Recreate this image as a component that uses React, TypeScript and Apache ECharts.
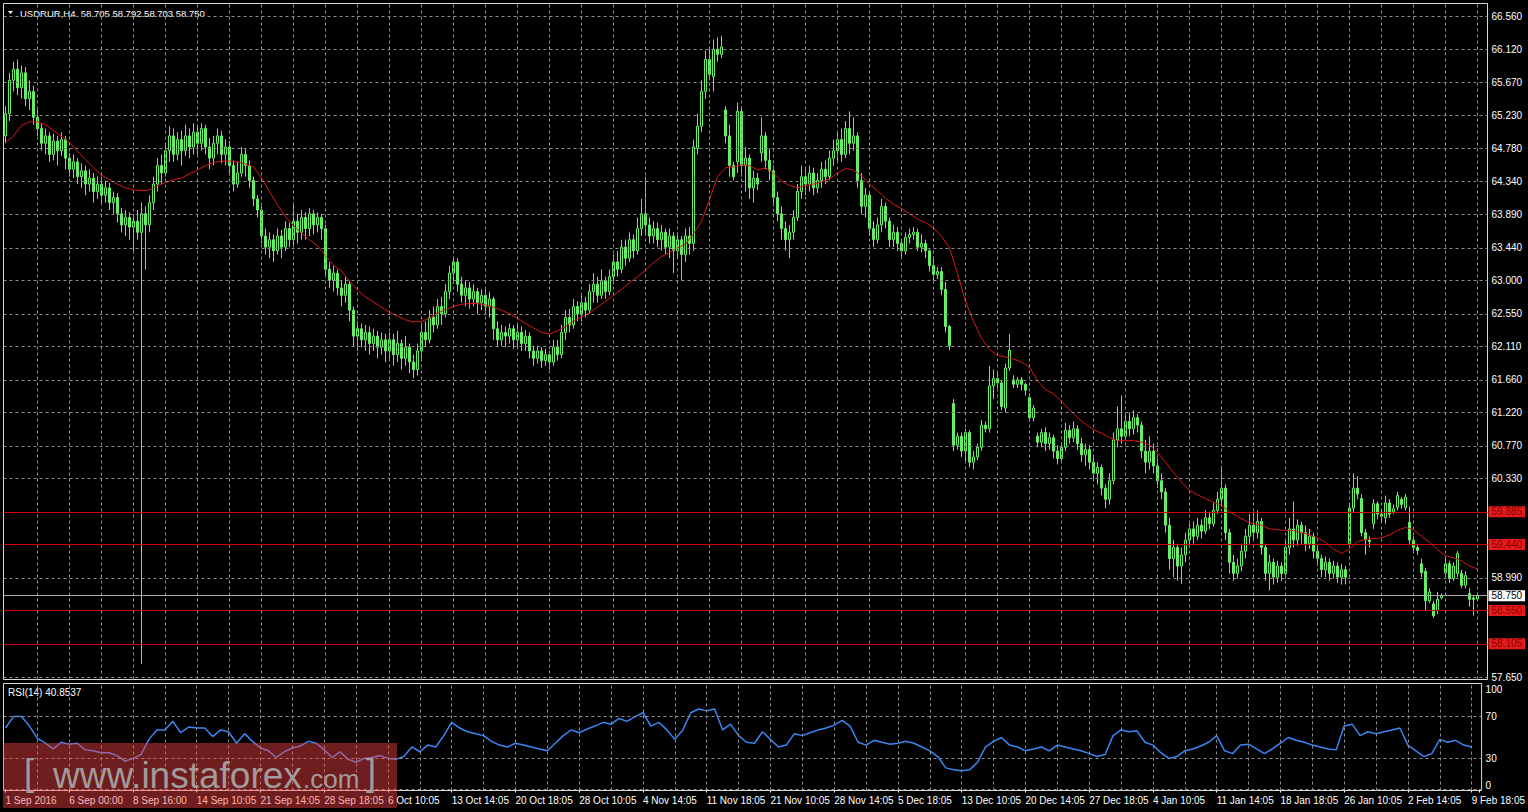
import React, { useEffect, useRef } from 'react';
import * as echarts from 'echarts';

const symbolTitle = 'USDRUR,H4  58.705 58.792 58.703 58.750';
const rsiTitle = 'RSI(14) 40.8537';

const xTickLabels = [
  '1 Sep 2016', '6 Sep 00:00', '8 Sep 16:00', '14 Sep 10:05', '21 Sep 14:05', '28 Sep 18:05',
  '6 Oct 10:05', '13 Oct 14:05', '20 Oct 18:05', '28 Oct 10:05', '4 Nov 14:05', '11 Nov 18:05',
  '21 Nov 10:05', '28 Nov 14:05', '5 Dec 18:05', '13 Dec 10:05', '20 Dec 14:05', '27 Dec 18:05',
  '4 Jan 10:05', '11 Jan 14:05', '18 Jan 18:05', '26 Jan 10:05', '2 Feb 14:05', '9 Feb 18:05',
];

const priceTicks = [
  66.56, 66.12, 65.67, 65.23, 64.78, 64.34, 63.89, 63.44, 63.0, 62.55, 62.11,
  61.66, 61.22, 60.77, 60.33, 59.885, 59.44, 58.99, 58.55, 58.105, 57.65,
];
const levelLines = [59.885, 59.44, 58.55, 58.105];
const lastPrice = 58.75;
const rsiGridLevels = [70, 30, 0];
const rsiTickLabels = [100, 70, 30, 0];

// [open, close, low, high] per H4 bar
const candles = [
  [64.95,65.25,64.85,65.35],[65.25,65.70,65.15,65.80],[65.70,65.85,65.55,65.95],[65.85,65.60,65.50,65.98],
  [65.60,65.80,65.45,65.90],[65.80,65.45,65.35,65.88],[65.45,65.55,65.30,65.70],[65.55,65.20,65.10,65.62],
  [65.20,65.05,64.95,65.30],[65.05,64.85,64.75,65.12],[64.85,64.95,64.70,65.05],[64.95,64.70,64.60,65.00],
  [64.70,64.88,64.62,64.98],[64.88,64.75,64.55,64.95],[64.75,64.90,64.68,65.00],[64.90,64.65,64.50,64.95],
  [64.65,64.50,64.40,64.72],[64.50,64.60,64.38,64.70],[64.60,64.40,64.30,64.65],[64.40,64.48,64.25,64.58],
  [64.48,64.30,64.15,64.55],[64.30,64.38,64.20,64.50],[64.38,64.20,64.05,64.45],[64.20,64.30,64.10,64.40],
  [64.30,64.15,64.02,64.40],[64.15,64.25,64.05,64.35],[64.25,64.05,63.95,64.32],[64.05,64.12,63.90,64.20],
  [64.12,63.90,63.78,64.18],[63.90,63.75,63.65,63.98],[63.75,63.85,63.60,63.95],[63.85,63.72,63.55,63.92],
  [63.72,63.80,63.40,63.90],[63.80,63.65,63.55,63.95],[63.65,63.90,57.83,64.05],[63.90,63.75,63.15,64.00],
  [63.75,64.05,63.65,64.15],[64.05,64.30,63.95,64.40],[64.30,64.55,64.20,64.65],[64.55,64.45,64.30,64.70],
  [64.45,64.75,64.40,64.85],[64.75,64.95,64.60,65.08],[64.95,64.70,64.60,65.05],[64.70,64.90,64.62,65.00],
  [64.90,64.75,64.55,65.02],[64.75,64.95,64.68,65.10],[64.95,64.80,64.65,65.05],[64.80,65.00,64.70,65.12],
  [65.00,64.85,64.70,65.10],[64.85,65.05,64.75,65.12],[65.05,64.80,64.70,65.10],[64.80,64.65,64.50,64.92],
  [64.65,64.85,64.55,64.95],[64.85,64.95,64.70,65.05],[64.95,64.70,64.58,65.02],[64.70,64.80,64.55,64.90],
  [64.80,64.55,64.45,64.88],[64.55,64.30,64.20,64.62],[64.30,64.45,64.25,64.60],[64.45,64.70,64.40,64.80],
  [64.70,64.55,64.40,64.78],[64.55,64.35,64.25,64.62],[64.35,64.10,64.00,64.40],[64.10,63.95,63.85,64.15],
  [63.95,63.60,63.50,64.00],[63.60,63.45,63.35,63.70],[63.45,63.55,63.30,63.65],[63.55,63.40,63.25,63.62],
  [63.40,63.60,63.35,63.70],[63.60,63.45,63.30,63.68],[63.45,63.70,63.40,63.80],[63.70,63.55,63.45,63.78],
  [63.55,63.80,63.45,64.05],[63.80,63.65,63.50,63.90],[63.65,63.85,63.55,63.95],[63.85,63.70,63.55,63.92],
  [63.70,63.90,63.60,63.98],[63.90,63.75,63.62,63.95],[63.75,63.85,63.65,63.92],[63.85,63.70,63.55,63.90],
  [63.70,63.15,63.05,63.75],[63.15,63.00,62.90,63.25],[63.00,63.10,62.85,63.20],[63.10,62.90,62.80,63.15],
  [62.90,62.80,62.65,63.00],[62.80,62.95,62.70,63.05],[62.95,62.60,62.45,63.00],[62.60,62.25,62.10,62.65],
  [62.25,62.35,62.05,62.45],[62.35,62.20,62.10,62.42],[62.20,62.30,62.05,62.40],[62.30,62.15,62.00,62.38],
  [62.15,62.25,62.05,62.35],[62.25,62.10,61.95,62.32],[62.10,62.20,62.00,62.30],[62.20,62.05,61.90,62.28],
  [62.05,62.20,61.95,62.30],[62.20,62.00,61.85,62.28],[62.00,62.15,61.90,62.32],[62.15,61.95,61.80,62.20],
  [61.95,62.10,61.85,62.25],[62.10,61.90,61.75,62.15],[61.90,61.80,61.68,62.00],[61.80,62.05,61.72,62.15],
  [62.05,62.30,61.95,62.40],[62.30,62.20,62.10,62.45],[62.20,62.50,62.15,62.60],[62.50,62.40,62.30,62.65],
  [62.40,62.65,62.35,62.75],[62.65,62.55,62.40,62.78],[62.55,62.85,62.50,62.95],[62.85,63.10,62.75,63.20],
  [63.10,63.25,62.95,63.32],[63.25,62.95,62.85,63.30],[62.95,62.80,62.70,63.05],[62.80,62.90,62.65,63.00],
  [62.90,62.75,62.62,62.98],[62.75,62.85,62.65,62.95],[62.85,62.70,62.55,62.90],[62.70,62.80,62.60,62.88],
  [62.80,62.65,62.55,62.88],[62.65,62.75,62.50,62.85],[62.75,62.35,62.20,62.78],[62.35,62.20,62.10,62.45],
  [62.20,62.30,62.12,62.40],[62.30,62.25,62.10,62.38],[62.25,62.35,62.15,62.42],[62.35,62.20,62.08,62.40],
  [62.20,62.30,62.10,62.40],[62.30,62.15,62.05,62.38],[62.15,62.25,62.05,62.33],[62.25,62.05,61.95,62.30],
  [62.05,61.95,61.85,62.12],[61.95,62.05,61.88,62.12],[62.05,61.92,61.82,62.10],[61.92,62.00,61.85,62.08],
  [62.00,61.90,61.80,62.05],[61.90,62.10,61.85,62.20],[62.10,62.00,61.92,62.20],[62.00,62.30,61.95,62.40],
  [62.30,62.50,62.20,62.60],[62.50,62.40,62.30,62.62],[62.40,62.65,62.35,62.75],[62.65,62.55,62.45,62.72],
  [62.55,62.70,62.45,62.80],[62.70,62.60,62.50,62.78],[62.60,62.85,62.55,62.95],[62.85,62.95,62.70,63.10],
  [62.95,62.80,62.70,63.05],[62.80,63.00,62.75,63.15],[63.00,62.85,62.75,63.05],[62.85,63.05,62.80,63.15],
  [63.05,63.25,62.95,63.35],[63.25,63.15,63.05,63.40],[63.15,63.45,63.10,63.55],[63.45,63.30,63.20,63.55],
  [63.30,63.55,63.25,63.65],[63.55,63.40,63.30,63.62],[63.40,63.70,63.35,63.85],[63.70,63.90,63.60,64.10],
  [63.90,63.75,63.60,64.40],[63.75,63.60,63.50,63.85],[63.60,63.70,63.50,63.80],[63.70,63.55,63.45,63.78],
  [63.55,63.65,63.40,63.75],[63.65,63.45,63.35,63.70],[63.45,63.60,63.30,63.70],[63.60,63.40,63.10,63.65],
  [63.40,63.55,63.30,63.65],[63.55,63.35,63.00,63.60],[63.35,63.60,63.25,63.70],[63.60,63.50,63.35,63.72],
  [63.50,64.80,63.40,64.90],[64.78,65.08,64.70,65.25],[65.08,65.55,65.00,65.70],[65.55,65.98,65.45,66.10],
  [65.98,65.78,65.70,66.15],[65.75,66.12,65.55,66.25],[66.12,66.05,65.95,66.28],[66.05,66.15,66.00,66.30],
  [65.30,64.95,64.85,65.35],[64.95,64.55,64.40,65.10],[64.55,64.40,64.35,64.60],[64.60,65.28,64.45,65.40],
  [65.28,64.55,64.40,65.35],[64.55,64.65,64.20,64.80],[64.65,64.25,64.10,64.70],[64.25,64.38,64.05,64.48],
  [64.38,64.30,64.22,64.45],[64.72,64.95,64.60,65.20],[64.95,64.62,64.50,65.00],[64.62,64.48,64.35,64.78],
  [64.48,64.12,64.00,64.55],[64.12,63.90,63.80,64.20],[63.90,63.70,63.55,64.00],[63.70,63.55,63.40,63.80],
  [63.55,63.65,63.30,63.75],[63.65,63.85,63.55,63.95],[63.85,64.20,63.80,64.30],[64.20,64.40,64.10,64.55],
  [64.40,64.30,64.15,64.50],[64.30,64.45,64.20,64.55],[64.45,64.25,64.15,64.52],[64.25,64.35,64.18,64.45],
  [64.35,64.50,64.25,64.60],[64.50,64.40,64.30,64.62],[64.40,64.65,64.35,64.75],[64.65,64.75,64.55,64.90],
  [64.75,64.90,64.60,65.00],[64.90,64.70,64.60,65.05],[64.70,65.05,64.65,65.15],[65.05,64.85,64.70,65.28],
  [64.85,64.95,64.75,65.20],[64.95,64.35,64.25,65.00],[64.35,64.00,63.90,64.45],[64.00,64.15,63.85,64.25],
  [64.15,63.70,63.60,64.20],[63.70,63.55,63.45,63.80],[63.55,63.75,63.50,63.85],[63.75,64.00,63.65,64.10],
  [64.00,63.80,63.70,64.05],[63.80,63.55,63.45,63.85],[63.55,63.65,63.45,63.75],[63.65,63.50,63.40,63.72],
  [63.50,63.40,63.32,63.55],[63.40,63.58,63.35,63.65],[63.58,63.62,63.50,63.70],[63.62,63.65,63.55,63.72],
  [63.65,63.45,63.40,63.70],[63.45,63.50,63.38,63.62],[63.50,63.40,63.30,63.55],[63.40,63.20,63.12,63.42],
  [63.20,63.08,63.00,63.32],[63.08,63.12,63.02,63.18],[63.12,62.88,62.80,63.18],[62.88,62.38,62.30,62.98],
  [62.38,62.12,62.06,62.40],[61.34,60.78,60.70,61.40],[60.78,60.90,60.72,60.95],[60.90,60.70,60.62,60.95],
  [60.70,60.95,60.55,61.00],[60.95,60.55,60.48,60.98],[60.55,60.62,60.45,60.70],[60.62,60.75,60.58,60.80],
  [60.75,61.05,60.70,61.12],[61.05,61.00,60.95,61.10],[61.00,61.58,60.95,61.85],[61.58,61.68,61.40,61.80],
  [61.68,61.62,61.55,61.78],[61.62,61.30,61.25,61.65],[61.28,61.82,61.22,61.88],[61.82,62.06,61.78,62.28],
  [61.66,61.60,61.55,61.72],[61.60,61.66,61.55,61.70],[61.66,61.60,61.52,61.70],[61.60,61.52,61.45,61.62],
  [61.42,61.15,61.10,61.48],[61.15,61.28,61.10,61.32],[60.90,60.82,60.75,60.95],[60.82,60.95,60.75,61.00],
  [60.95,60.80,60.70,61.02],[60.80,60.88,60.72,60.95],[60.88,60.70,60.60,60.92],[60.70,60.60,60.52,60.78],
  [60.60,60.75,60.55,60.82],[60.75,60.98,60.70,61.08],[60.98,60.88,60.80,61.05],[60.88,61.00,60.82,61.10],
  [61.00,60.80,60.72,61.05],[60.80,60.65,60.55,60.88],[60.65,60.72,60.50,60.80],[60.72,60.55,60.45,60.78],
  [60.55,60.40,60.30,60.62],[60.40,60.48,60.25,60.55],[60.48,60.20,60.10,60.52],[60.20,60.05,59.93,60.25],
  [60.05,60.30,59.98,60.40],[60.30,60.85,60.25,60.95],[60.85,61.00,60.75,61.30],[61.00,60.90,60.80,61.45],
  [60.90,61.10,60.85,61.20],[61.10,61.00,60.90,61.22],[61.00,61.15,60.92,61.25],[61.15,61.05,60.95,61.20],
  [61.05,60.70,60.60,61.10],[60.70,60.55,60.40,60.85],[60.55,60.70,60.45,60.90],[60.70,60.50,60.40,60.80],
  [60.50,60.30,60.20,60.60],[60.30,60.15,60.05,60.40],[60.15,59.70,59.60,60.20],[59.70,59.25,59.10,59.80],
  [59.25,59.40,59.00,59.50],[59.40,59.15,58.95,59.45],[59.15,59.30,58.91,59.40],[59.30,59.50,59.20,59.60],
  [59.50,59.65,59.40,59.72],[59.65,59.55,59.45,59.75],[59.55,59.70,59.50,59.80],[59.70,59.62,59.52,59.78],
  [59.62,59.80,59.58,59.90],[59.80,59.72,59.65,59.88],[59.72,59.90,59.68,60.00],[59.90,60.05,59.85,60.15],
  [60.05,60.20,59.95,60.50],[60.20,59.60,59.50,60.25],[59.60,59.20,59.05,59.65],[59.20,59.05,58.95,59.30],
  [59.05,59.15,58.98,59.25],[59.15,59.35,59.08,59.45],[59.35,59.55,59.25,59.65],[59.55,59.70,59.45,59.85],
  [59.70,59.60,59.50,59.88],[59.60,59.75,59.52,59.90],[59.75,59.40,59.30,59.80],[59.40,59.05,58.95,59.45],
  [59.05,59.20,58.82,59.30],[59.20,59.00,58.90,59.25],[59.00,59.15,58.92,59.22],[59.15,59.05,58.95,59.20],
  [59.05,59.40,58.98,59.50],[59.40,59.65,59.30,59.80],[59.65,59.50,59.40,60.02],[59.50,59.70,59.42,59.78],
  [59.70,59.60,59.45,59.75],[59.60,59.45,59.35,59.70],[59.45,59.55,59.38,59.65],[59.55,59.35,59.25,59.60],
  [59.35,59.25,59.15,59.45],[59.25,59.10,59.00,59.30],[59.10,59.20,59.00,59.28],[59.20,59.05,58.95,59.25],
  [59.05,59.15,58.98,59.22],[59.15,59.00,58.92,59.20],[59.00,59.10,58.90,59.18],[59.10,59.00,58.90,59.15],
  [59.45,59.93,59.40,60.00],[59.93,60.20,59.88,60.40],[60.20,60.12,60.05,60.36],[60.06,59.60,59.55,60.12],
  [59.60,59.50,59.30,59.65],[59.50,59.48,59.40,59.55],[59.72,59.99,59.65,60.05],[59.99,59.85,59.78,60.02],
  [59.85,59.82,59.75,59.90],[59.80,60.00,59.72,60.10],[60.00,59.85,59.80,60.05],[59.88,59.92,59.85,59.98],
  [59.94,60.10,59.90,60.15],[60.05,59.98,59.92,60.08],[59.94,60.08,59.90,60.12],[59.74,59.50,59.45,59.95],
  [59.50,59.40,59.35,59.55],[59.40,59.36,59.30,59.45],[59.18,59.06,59.00,59.25],[59.08,58.68,58.55,59.12],
  [58.68,58.80,58.65,58.85],[58.64,58.48,58.45,58.68],[58.55,58.70,58.50,58.80],[58.72,58.75,58.70,58.78],
  [59.06,59.18,59.00,59.28],[59.18,58.98,58.92,59.22],[58.98,59.15,58.95,59.20],[59.05,59.32,59.00,59.35],
  [59.05,58.89,58.85,59.10],[58.89,59.02,58.85,59.08],[58.78,58.70,58.60,58.85],[58.72,58.70,58.48,58.75],
  [58.705,58.75,58.703,58.792],
];

// moving average (red), read every 2nd bar
const maPoints = [
  64.86,64.95,65.09,65.14,65.14,65.10,65.02,64.94,64.86,64.74,
  64.63,64.52,64.42,64.36,64.30,64.25,64.22,64.21,64.22,64.28,
  64.32,64.36,64.38,64.44,64.49,64.55,64.59,64.61,64.61,64.60,
  64.57,64.53,64.38,64.20,64.02,63.86,63.74,63.64,63.55,63.47,
  63.33,63.21,63.13,62.99,62.87,62.78,62.71,62.64,62.57,62.52,
  62.47,62.44,62.45,62.49,62.56,62.61,62.65,62.68,62.69,62.69,
  62.67,62.64,62.60,62.55,62.49,62.42,62.36,62.30,62.28,62.32,
  62.38,62.45,62.51,62.56,62.64,62.72,62.80,62.88,62.97,63.05,
  63.14,63.24,63.32,63.38,63.44,63.49,63.63,63.80,64.09,64.40,
  64.52,64.53,64.56,64.55,64.49,64.52,64.45,64.34,64.28,64.25,
  64.28,64.30,64.33,64.37,64.45,64.51,64.49,64.41,64.30,64.21,
  64.11,64.03,63.97,63.90,63.83,63.78,63.71,63.60,63.44,63.09,
  62.72,62.45,62.22,62.07,61.99,61.97,61.94,61.90,61.83,61.65,
  61.53,61.47,61.37,61.26,61.15,61.06,60.99,60.94,60.88,60.84,
  60.84,60.84,60.82,60.78,60.68,60.55,60.41,60.28,60.17,60.11,
  60.06,60.01,59.97,59.88,59.82,59.76,59.72,59.70,59.65,59.64,
  59.63,59.63,59.60,59.57,59.53,59.47,59.38,59.32,59.38,59.48,
  59.51,59.52,59.53,59.57,59.63,59.67,59.64,59.55,59.47,59.37,
  59.29,59.26,59.22,59.15,59.11,
];

// RSI(14), read every 2nd bar
const rsiPoints = [
  59.1,70.1,70.1,61.0,49.1,44.5,39.0,45.4,43.6,44.5,
  38.1,37.2,35.4,35.4,32.6,27.2,29.9,33.6,48.2,57.3,
  57.3,65.5,54.6,60.1,59.1,59.1,50.9,57.3,55.5,44.5,
  53.7,46.3,39.9,37.2,30.8,36.3,39.9,41.8,46.3,44.5,
  38.1,30.8,36.3,29.0,26.2,29.9,30.8,32.6,29.9,29.0,
  31.7,40.9,36.3,42.7,40.9,51.8,64.6,59.1,55.5,53.7,
  51.8,46.3,42.7,40.9,44.5,42.7,40.9,39.0,37.2,44.5,
  51.8,57.3,54.6,58.2,61.0,64.6,62.8,68.3,65.5,70.1,
  73.8,61.0,64.6,57.3,48.2,57.3,73.8,77.4,75.6,77.4,
  57.3,62.8,51.8,45.4,44.5,55.5,48.2,40.9,42.7,53.7,
  51.8,54.6,57.3,59.1,61.9,66.4,61.0,45.4,42.7,47.3,
  45.4,43.6,44.5,46.3,44.5,40.9,37.2,31.7,20.8,18.9,
  18.0,18.9,26.2,40.9,46.3,50.0,42.7,40.9,37.2,39.0,
  40.9,37.2,42.7,40.9,39.0,37.2,34.5,31.7,33.6,51.8,
  57.3,55.5,56.4,45.4,42.7,35.4,29.9,31.7,37.2,39.0,
  41.8,45.4,51.8,37.2,34.5,42.7,43.6,39.0,34.5,39.0,
  44.5,50.0,47.3,45.4,42.7,40.9,39.0,38.1,61.0,62.8,
  51.8,55.5,53.7,55.5,57.3,59.1,42.7,37.2,31.7,34.5,
  48.2,45.4,47.3,42.7,40.85,
];

const SLOTS = 371;
const LABEL_EVERY = 16;
const GRID_EVERY = 8;
const SAMPLE_STEP = 2;
const FONT = "'Liberation Sans', Arial, sans-serif";

export default function App() {
  const ref = useRef<HTMLDivElement>(null);

  useEffect(() => {
    document.body.style.margin = '0';
    document.body.style.background = '#000';
    if (!ref.current) return;
    const chart = echarts.init(ref.current, null, { renderer: 'svg' });

    const categories = Array.from({ length: SLOTS }, (_, i) =>
      i % LABEL_EVERY === 0 && xTickLabels[i / LABEL_EVERY] ? xTickLabels[i / LABEL_EVERY] : ''
    );
    const vLines: any[] = [];
    for (let i = GRID_EVERY; i < candles.length; i += GRID_EVERY) vLines.push({ xAxis: i });

    const gridStyle = { color: '#8e8e8e', type: [3, 3], width: 1 };
    const hiddenLine = { color: 'rgba(0,0,0,0)', width: 1 };
    const tickLabel = (text: string, extra: any = {}) => ({
      show: true, position: 'end', distance: 4, formatter: text,
      color: '#ffffff', fontSize: 10, fontFamily: FONT, ...extra,
    });
    // MT4 keeps the 100 / 0 captions inside the indicator window
    const rsiCaption = (v: number) =>
      v === 100 ? tickLabel('\n100', { lineHeight: 9 })
        : v === 0 ? tickLabel('0\n', { lineHeight: 9 })
        : tickLabel(String(v));

    const option: any = {
      animation: false,
      backgroundColor: '#000000',
      grid: [
        { left: 3.5, top: 3.5, width: 1484, height: 676, show: true, borderColor: '#d8d8d8', borderWidth: 1 },
        { left: 3.5, top: 683.5, width: 1484, height: 107, show: true, borderColor: '#d8d8d8', borderWidth: 1 },
      ],
      xAxis: [
        {
          type: 'category', gridIndex: 0, data: categories, boundaryGap: true,
          axisLine: { show: false }, axisTick: { show: false }, axisLabel: { show: false }, splitLine: { show: false },
        },
        {
          type: 'category', gridIndex: 1, data: categories, boundaryGap: true,
          axisLine: { show: false },
          axisTick: { show: true, interval: LABEL_EVERY - 1, alignWithLabel: true, length: 3, lineStyle: { color: '#ffffff' } },
          axisLabel: {
            interval: LABEL_EVERY - 1, align: 'left', margin: 5, color: '#ffffff',
            fontSize: 10, fontFamily: FONT, showMinLabel: true, showMaxLabel: true,
          },
          splitLine: { show: false },
        },
      ],
      yAxis: [
        { type: 'value', gridIndex: 0, min: 57.6195, max: 66.7353, show: false, splitLine: { show: false } },
        { type: 'value', gridIndex: 1, min: -0.96, max: 101.92, show: false, splitLine: { show: false } },
      ],
      series: [
        {
          type: 'line', xAxisIndex: 0, yAxisIndex: 0, data: [], z: 1, silent: true,
          markLine: {
            silent: true, symbol: ['none', 'none'], lineStyle: gridStyle, label: { show: false },
            data: [
              ...vLines,
              ...priceTicks.filter((v) => !levelLines.includes(v)).map((v) => ({
                yAxis: v,
                label: tickLabel(v.toFixed(3)),
              })),
            ],
          },
        },
        {
          type: 'line', xAxisIndex: 1, yAxisIndex: 1, data: [], z: 1, silent: true,
          markLine: {
            silent: true, symbol: ['none', 'none'], lineStyle: gridStyle, label: { show: false },
            data: [
              ...vLines,
              ...rsiTickLabels.map((v) => ({
                yAxis: v,
                lineStyle: rsiGridLevels.includes(v) ? gridStyle : hiddenLine,
                label: rsiCaption(v),
              })),
            ],
          },
        },
        {
          type: 'candlestick', xAxisIndex: 0, yAxisIndex: 0, data: candles, z: 3,
          barWidth: 2,
          itemStyle: {
            color: '#000000', color0: '#66ee66',
            borderColor: '#66ee66', borderColor0: '#66ee66', borderWidth: 1,
          },
        },
        {
          type: 'line', xAxisIndex: 0, yAxisIndex: 0, z: 4, symbol: 'none', showSymbol: false,
          data: maPoints.map((v, k) => [k * SAMPLE_STEP, v]),
          lineStyle: { color: '#d8191b', width: 1 },
        },
        {
          type: 'line', xAxisIndex: 0, yAxisIndex: 0, data: [], z: 5, silent: true,
          markLine: {
            silent: true, symbol: ['none', 'none'],
            data: [
              ...levelLines.map((v) => ({
                yAxis: v,
                lineStyle: { color: '#d00000', type: 'solid', width: 1 },
                label: {
                  show: true, position: 'end', distance: 1, formatter: v.toFixed(3),
                  color: '#8c0000', backgroundColor: '#e31b1b', padding: [1, 3, 0, 3],
                  fontSize: 10, fontFamily: FONT,
                },
              })),
              {
                yAxis: lastPrice,
                lineStyle: { color: '#a8a8a8', type: 'solid', width: 1 },
                label: {
                  show: true, position: 'end', distance: 1, formatter: lastPrice.toFixed(3),
                  color: '#000000', backgroundColor: '#ffffff', padding: [1, 3, 0, 3],
                  fontSize: 10, fontFamily: FONT,
                },
              },
            ],
          },
        },
        {
          type: 'line', xAxisIndex: 1, yAxisIndex: 1, z: 3, symbol: 'none', showSymbol: false,
          data: rsiPoints.map((v, k) => [k * SAMPLE_STEP, v]),
          lineStyle: { color: '#3a86f2', width: 1.5 },
        },
      ],
      graphic: [
        { type: 'polygon', shape: { points: [[8, 11], [13, 11], [10.5, 14]] }, style: { fill: '#ffffff' } },
        { type: 'text', x: 20, y: 13, style: { text: symbolTitle, fill: '#ffffff', fontSize: 9.5, fontFamily: FONT, verticalAlign: 'middle' } },
        { type: 'text', x: 8, y: 692, style: { text: rsiTitle, fill: '#ffffff', fontSize: 10, fontFamily: FONT, verticalAlign: 'middle' } },
        { type: 'rect', z: 100, shape: { x: 3, y: 743, width: 394, height: 65 }, style: { fill: 'rgba(255,70,70,0.43)' } },
        { type: 'text', z: 101, x: 24, y: 772, style: { text: '[', fill: '#a39b9b', fontSize: 36, fontFamily: FONT, verticalAlign: 'middle' } },
        { type: 'text', z: 101, x: 53, y: 775, style: { text: 'www.instaforex', fill: '#a39b9b', fontSize: 37, fontFamily: FONT, verticalAlign: 'middle' } },
        { type: 'text', z: 101, x: 303, y: 779, style: { text: '.com', fill: '#a39b9b', fontSize: 26, fontFamily: FONT, verticalAlign: 'middle' } },
        { type: 'text', z: 101, x: 366, y: 772, style: { text: ']', fill: '#a39b9b', fontSize: 36, fontFamily: FONT, verticalAlign: 'middle' } },
      ],
    };

    chart.setOption(option);
    return () => chart.dispose();
  }, []);

  return (
    <div
      ref={ref}
      style={{ position: 'fixed', left: 0, top: 0, width: 1528, height: 812, background: '#000' }}
    />
  );
}
